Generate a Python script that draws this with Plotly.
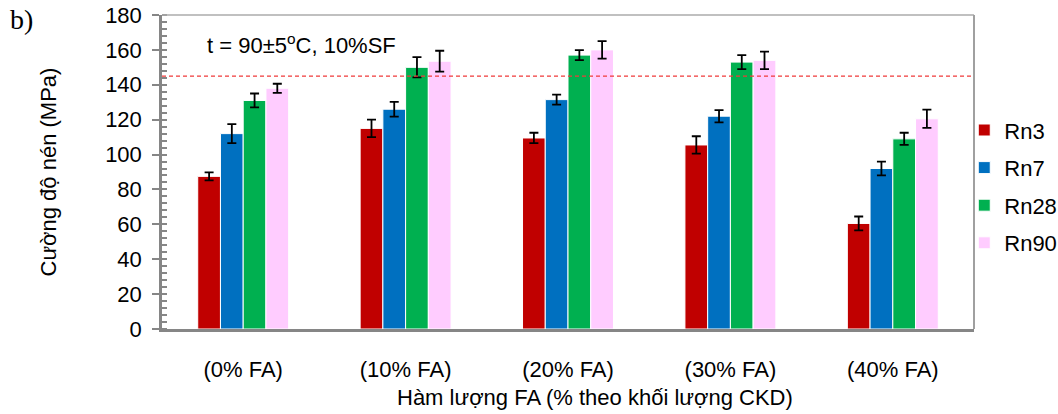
import plotly.graph_objects as go

# Compressive strength by fly-ash content, grouped by curing age
categories = ["(0% FA)", "(10% FA)", "(20% FA)", "(30% FA)", "(40% FA)"]
series_names = ["Rn3", "Rn7", "Rn28", "Rn90"]
rn3 = [87.5, 115, 109.5, 105.5, 60.5]
rn7 = [112, 126, 131.5, 122, 92]
rn28 = [131, 150, 157, 153, 109]
rn90 = [138, 153.5, 160, 154, 120.5]
rn3_err = [2.3, 5, 3, 5, 4]
rn7_err = [5.5, 4.2, 2.9, 3.5, 3.9]
rn28_err = [4, 5.8, 2.9, 4, 3.5]
rn90_err = [2.6, 6, 5, 5, 5.2]
target_strength = 145

values = [rn3, rn7, rn28, rn90]
errors = [rn3_err, rn7_err, rn28_err, rn90_err]
colors = ["#C00000", "#0070C0", "#00B050", "#FFCCFF"]

FONT = "Liberation Sans, Arial, sans-serif"
FS = 22

fig = go.Figure()
for name, vals, errs, col in zip(series_names, values, errors, colors):
    fig.add_trace(go.Bar(
        x=categories, y=vals, name=name, legendgroup=name,
        marker=dict(color=col, line=dict(color="white", width=1)),
        error_y=dict(type="data", array=errs, visible=True,
                     color="black", thickness=1.8, width=4.5),
    ))

# Reference strength level
fig.add_shape(type="line", xref="paper", yref="y", x0=0, x1=1,
              y0=target_strength, y1=target_strength,
              line=dict(color="#F03A3A", width=1.2, dash="4px,3px"))
# Top and right frame lines
fig.add_shape(type="line", xref="paper", yref="paper", x0=0, x1=1, y0=1, y1=1,
              line=dict(color="#ABABAB", width=1.5))
fig.add_shape(type="line", xref="paper", yref="paper", x0=1, x1=1, y0=0, y1=1,
              line=dict(color="#A0A0A0", width=2))

fig.add_annotation(text="t = 90±5<sup>o</sup>C, 10%SF", xref="paper", yref="paper",
                   x=0.053, y=0.908, xanchor="left", yanchor="middle",
                   showarrow=False, font=dict(family=FONT, size=FS, color="black"))
fig.add_annotation(text="b)", xref="paper", yref="paper",
                   x=-0.190, y=0.985, xanchor="left", yanchor="middle",
                   showarrow=False,
                   font=dict(family="Liberation Serif, Times New Roman, serif",
                             size=28, color="black"))
fig.add_annotation(text="Cường độ nén (MPa)", xref="paper", yref="paper",
                   x=-0.141, y=0.5, xanchor="center", yanchor="middle",
                   textangle=-90, showarrow=False,
                   font=dict(family=FONT, size=FS, color="black"))
fig.add_annotation(text="Hàm lượng FA (% theo khối lượng CKD)", xref="paper", yref="paper",
                   x=0.533, y=-0.218, xanchor="center", yanchor="middle",
                   showarrow=False, font=dict(family=FONT, size=FS, color="black"))

fig.update_layout(
    width=1058, height=414,
    margin=dict(l=162, r=84, t=15, b=84.5, pad=0, autoexpand=False),
    paper_bgcolor="white", plot_bgcolor="white",
    barmode="group", bargap=0.44, bargroupgap=0,
    font=dict(family=FONT, size=FS, color="black"),
    showlegend=True,
    legend=dict(x=0.988, y=0.70, xanchor="left", yanchor="top",
                font=dict(family=FONT, size=FS, color="black"),
                tracegroupgap=6, itemwidth=30, bgcolor="rgba(0,0,0,0)"),
    xaxis=dict(showline=True, linecolor="#868686", linewidth=2.5,
               ticks="", showgrid=False, ticklabelstandoff=19,
               tickfont=dict(family=FONT, size=FS, color="black")),
    yaxis=dict(range=[0, 180], dtick=20, showline=True, linecolor="#868686",
               linewidth=2.5, ticks="outside", ticklen=7, tickwidth=2,
               tickcolor="#868686", showgrid=False, zeroline=False,
               ticklabelstandoff=6,
               tickfont=dict(family=FONT, size=FS, color="black"),
               minor=dict(ticks="inside", dtick=4, ticklen=5, tickwidth=2,
                          tickcolor="#868686", showgrid=False)),
)

fig.write_html("out.html")
